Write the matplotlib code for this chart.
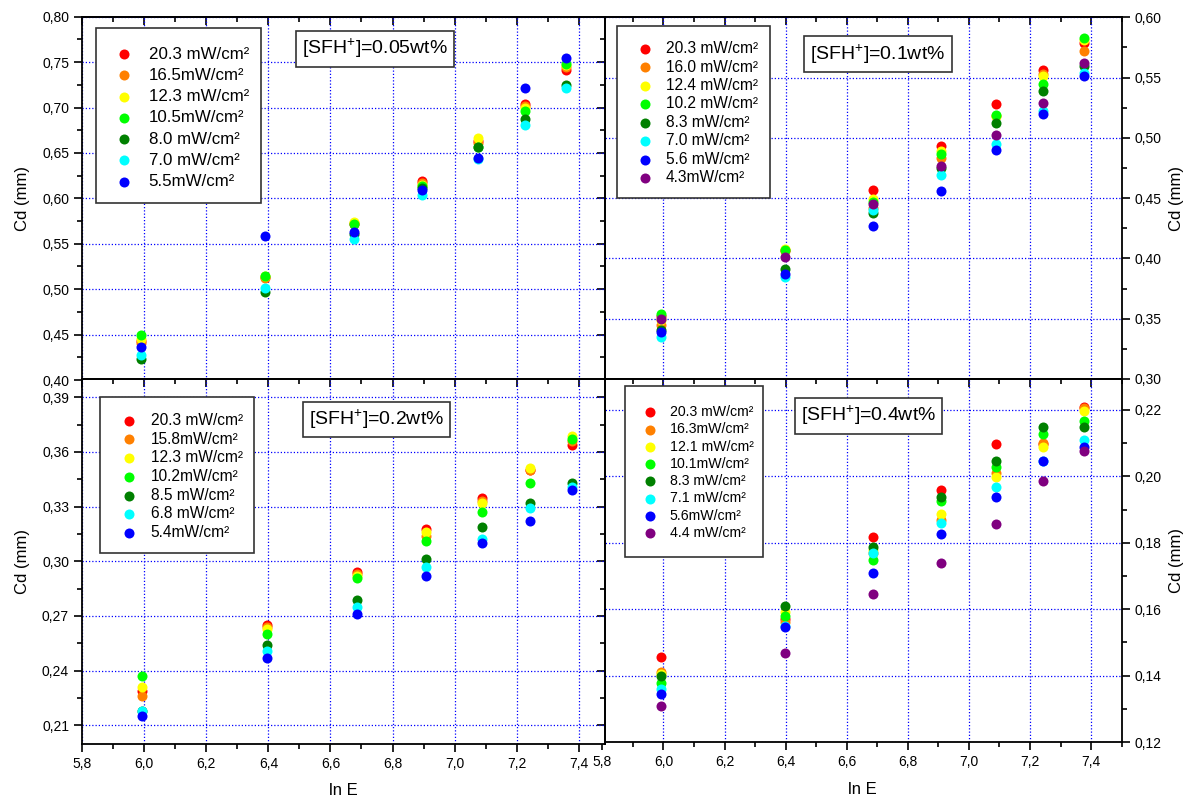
import matplotlib
matplotlib.use("Agg")
import matplotlib.pyplot as plt
from matplotlib.ticker import MultipleLocator, FuncFormatter, NullFormatter
from matplotlib.patches import Rectangle
import numpy as np

plt.rcParams['font.family'] = ['Liberation Sans', 'DejaVu Sans']
plt.rcParams['mathtext.fontset'] = 'custom'
plt.rcParams['mathtext.rm'] = 'Liberation Sans'
plt.rcParams['mathtext.it'] = 'Liberation Sans:italic'

# ---------------- data ----------------
lnE = [5.992, 6.397, 6.685, 6.908, 7.090, 7.244, 7.378]
lnE_tl = [5.989, 6.390, 6.675, 6.896, 7.075, 7.226, 7.360]

colors7 = ['#ff0000', '#ff8000', '#ffff00', '#00ff00', '#008000', '#00ffff', '#0000ff']
colors8 = colors7 + ['#800080']

labels_005 = ['20.3 mW/cm²', '16.5mW/cm²', '12.3 mW/cm²', '10.5mW/cm²',
              '8.0 mW/cm²', '7.0 mW/cm²', '5.5mW/cm²']
cd_005 = [
    [0.443, 0.513, 0.572, 0.619, 0.663, 0.704, 0.741],
    [0.441, 0.512, 0.573, 0.617, 0.661, 0.702, 0.745],
    [0.445, 0.514, 0.574, 0.615, 0.666, 0.700, 0.747],
    [0.449, 0.514, 0.572, 0.614, 0.656, 0.696, 0.748],
    [0.423, 0.497, 0.561, 0.611, 0.657, 0.687, 0.725],
    [0.428, 0.501, 0.555, 0.604, 0.643, 0.681, 0.722],
    [0.436, 0.558, 0.563, 0.609, 0.644, 0.722, 0.755],
]

labels_01 = ['20.3 mW/cm²', '16.0 mW/cm²', '12.4 mW/cm²', '10.2 mW/cm²',
             '8.3 mW/cm²', '7.0 mW/cm²', '5.6 mW/cm²', '4.3mW/cm²']
cd_01 = [
    [0.352, 0.407, 0.457, 0.493, 0.528, 0.556, 0.579],
    [0.345, 0.406, 0.442, 0.483, 0.518, 0.553, 0.572],
    [0.349, 0.408, 0.449, 0.489, 0.518, 0.551, 0.581],
    [0.354, 0.407, 0.447, 0.487, 0.519, 0.545, 0.583],
    [0.341, 0.391, 0.438, 0.475, 0.512, 0.539, 0.560],
    [0.335, 0.385, 0.440, 0.469, 0.495, 0.522, 0.554],
    [0.339, 0.387, 0.427, 0.456, 0.490, 0.520, 0.551],
    [0.350, 0.401, 0.445, 0.477, 0.502, 0.529, 0.562],
]

labels_02 = ['20.3 mW/cm²', '15.8mW/cm²', '12.3 mW/cm²', '10.2mW/cm²',
             '8.5 mW/cm²', '6.8 mW/cm²', '5.4mW/cm²']
cd_02 = [
    [0.229, 0.265, 0.294, 0.318, 0.335, 0.350, 0.364],
    [0.226, 0.264, 0.293, 0.314, 0.333, 0.350, 0.366],
    [0.231, 0.263, 0.292, 0.316, 0.332, 0.351, 0.369],
    [0.237, 0.260, 0.291, 0.311, 0.327, 0.343, 0.367],
    [0.218, 0.254, 0.279, 0.301, 0.319, 0.332, 0.343],
    [0.218, 0.251, 0.275, 0.297, 0.312, 0.329, 0.341],
    [0.215, 0.247, 0.271, 0.292, 0.310, 0.322, 0.339],
]

labels_04 = ['20.3 mW/cm²', '16.3mW/cm²', '12.1 mW/cm²', '10.1mW/cm²',
             '8.3 mW/cm²', '7.1 mW/cm²', '5.6mW/cm²', '4.4 mW/cm²']
cd_04 = [
    [0.1456, 0.157, 0.1818, 0.1959, 0.2096, 0.2098, 0.2210],
    [0.1411, 0.1562, 0.1770, 0.1868, 0.2009, 0.2100, 0.2205],
    [0.1406, 0.1592, 0.1778, 0.1888, 0.1999, 0.2087, 0.2198],
    [0.1379, 0.1579, 0.1748, 0.1927, 0.2027, 0.2127, 0.2168],
    [0.1398, 0.1609, 0.1788, 0.1937, 0.2047, 0.2148, 0.2147],
    [0.1361, 0.1550, 0.1768, 0.1858, 0.1967, 0.2045, 0.2110],
    [0.1346, 0.1547, 0.1708, 0.1826, 0.1937, 0.2047, 0.2089],
    [0.1308, 0.1468, 0.1647, 0.1738, 0.1857, 0.1987, 0.2076],
]

titles = ['[SFH$^{\\mathregular{+}}$]=0.05wt%', '[SFH$^{\\mathregular{+}}$]=0.1wt%',
          '[SFH$^{\\mathregular{+}}$]=0.2wt%', '[SFH$^{\\mathregular{+}}$]=0.4wt%']

# ---------------- layout ----------------
W, H = 1190, 799
fig = plt.figure(figsize=(W / 100, H / 100), dpi=100)


def rect(x0, x1, y0, y1):
    return [x0 / W, 1 - y1 / H, (x1 - x0) / W, (y1 - y0) / H]


comma = FuncFormatter(lambda v, p: ('%.2f' % v).replace('.', ','))
comma1 = FuncFormatter(lambda v, p: ('%.1f' % v).replace('.', ','))


def setup(ax, xlim, ylim, ymaj, ymin_, side, xlabels):
    ax.set_xlim(*xlim)
    ax.set_ylim(*ylim)
    ax.xaxis.set_major_locator(MultipleLocator(0.2))
    ax.xaxis.set_minor_locator(MultipleLocator(0.1))
    ax.xaxis.set_major_formatter(comma1)
    ax.yaxis.set_major_locator(MultipleLocator(ymaj))
    ax.yaxis.set_minor_locator(MultipleLocator(ymin_))
    ax.yaxis.set_major_formatter(comma)
    ax.grid(True, which='major', color='#0000ff', linestyle=(0, (1, 1.6)), linewidth=0.9)
    ax.set_axisbelow(True)
    for s in ax.spines.values():
        s.set_linewidth(1.3)
        s.set_color('black')
    ax.tick_params(which='major', length=6, width=1.2, labelsize=10)
    ax.tick_params(which='minor', length=3.5, width=1.2)
    ax.tick_params(axis='x', which='both', direction='out', top=False, bottom=True,
                   labelbottom=xlabels)
    # inward ticks on the top edge
    top = ax.secondary_xaxis('top')
    top.xaxis.set_major_locator(MultipleLocator(0.2))
    top.xaxis.set_minor_locator(MultipleLocator(0.1))
    top.xaxis.set_major_formatter(NullFormatter())
    top.tick_params(which='both', direction='in', width=1.2)
    top.tick_params(which='major', length=6)
    top.tick_params(which='minor', length=3.5)
    top.spines['top'].set_linewidth(1.3)
    if side == 'left':
        ax.tick_params(axis='y', which='both', left=True, right=False, direction='out')
        rt = ax.secondary_yaxis('right')
        rt.yaxis.set_major_locator(MultipleLocator(ymaj))
        rt.yaxis.set_minor_locator(MultipleLocator(ymin_))
        rt.yaxis.set_major_formatter(NullFormatter())
        rt.tick_params(which='both', direction='in', width=1.2)
        rt.tick_params(which='major', length=6)
        rt.tick_params(which='minor', length=3.5)
        rt.spines['right'].set_linewidth(1.3)
    else:
        ax.yaxis.tick_right()
        ax.yaxis.set_label_position('right')
        ax.tick_params(axis='y', which='both', left=False, right=True, direction='out')
        ax.spines['left'].set_visible(False)
    ax.set_ylabel('Cd (mm)', fontsize=12, rotation=90)
    if xlabels:
        ax.set_xlabel('ln E', fontsize=12, labelpad=9)


ax_tr = fig.add_axes(rect(602.3, 1121.7, 17.3, 379))
ax_br = fig.add_axes(rect(602.3, 1121.7, 379, 742))
ax_tl = fig.add_axes(rect(82.3, 605, 16.7, 380))
ax_bl = fig.add_axes(rect(82.3, 605, 379.1, 743.5))

xl_left = (5.8, 7.485)
xl_right = (5.8, 7.5)
setup(ax_tl, xl_left, (0.40, 0.80), 0.05, 0.025, 'left', False)
setup(ax_bl, xl_left, (0.20, 0.40), 0.03, 0.015, 'left', True)
setup(ax_tr, xl_right, (0.30, 0.60), 0.05, 0.025, 'right', False)
setup(ax_br, xl_right, (0.12, 0.2293), 0.02, 0.01, 'right', True)

ax_tl.yaxis.set_label_coords(-0.100, 0.5)
ax_bl.yaxis.set_label_coords(-0.100, 0.5)
ax_tr.yaxis.set_label_coords(1.092, 0.5)
ax_br.yaxis.set_label_coords(1.092, 0.5)


def draw(ax, xs, data, labels, cols):
    hs = []
    for vals, lab, c in zip(data, labels, cols):
        h = ax.scatter(xs, vals, s=52, color=c, label=lab, linewidths=0, zorder=3)
        hs.append(h)
    return hs


h_tl = draw(ax_tl, lnE_tl, cd_005, labels_005, colors7)
h_tr = draw(ax_tr, lnE, cd_01, labels_01, colors8)
h_bl = draw(ax_bl, lnE, cd_02, labels_02, colors7)
h_br = draw(ax_br, lnE, cd_04, labels_04, colors8)


def place_legend(ax, hs, box, marker_x, text_x, row1, fs, spacing):
    fs_px = fs * 100 / 72.0
    h = 1.2
    p = (text_x - marker_x) / fs_px - h / 2
    left = marker_x - h * fs_px / 2
    top = row1 - 0.40 * fs_px
    x0, x1, y0, y1 = box
    ax.add_patch(Rectangle((x0 / W, 1 - y1 / H), (x1 - x0) / W, (y1 - y0) / H,
                           transform=fig.transFigure, facecolor='white',
                           edgecolor='#333333', linewidth=1.2, zorder=4, clip_on=False))
    leg = ax.legend(handles=hs, loc='upper left',
                    bbox_to_anchor=(left / W, 1 - top / H), bbox_transform=fig.transFigure,
                    fontsize=fs, frameon=False, borderpad=0,
                    handlelength=h, handletextpad=p, labelspacing=spacing,
                    borderaxespad=0, scatterpoints=1)
    leg.set_zorder(6)
    return leg


place_legend(ax_tl, h_tl, (96, 261, 28.3, 203.3), 124.3, 148.6, 53.3, 12.2, 0.37)
place_legend(ax_tr, h_tr, (617, 770, 26, 197.7), 645, 665.8, 47.3, 11.2, 0.22)
place_legend(ax_bl, h_bl, (100.4, 254, 397.3, 553.3), 129.3, 150.6, 419, 11.2, 0.24)
place_legend(ax_br, h_br, (624.6, 763, 385.7, 557.3), 650, 669.8, 410.7, 10.2, 0.23)

for (cx, cy), t in zip([(375, 48.8), (878, 54.2), (376.3, 419.5), (868.5, 415.8)], titles):
    fig.text(cx / W, 1 - cy / H, t, fontsize=14, ha='center', va='center',
             bbox=dict(boxstyle='square,pad=0.32', fc='white', ec='#333333', lw=1.2))

fig.savefig('out.png', dpi=100)
